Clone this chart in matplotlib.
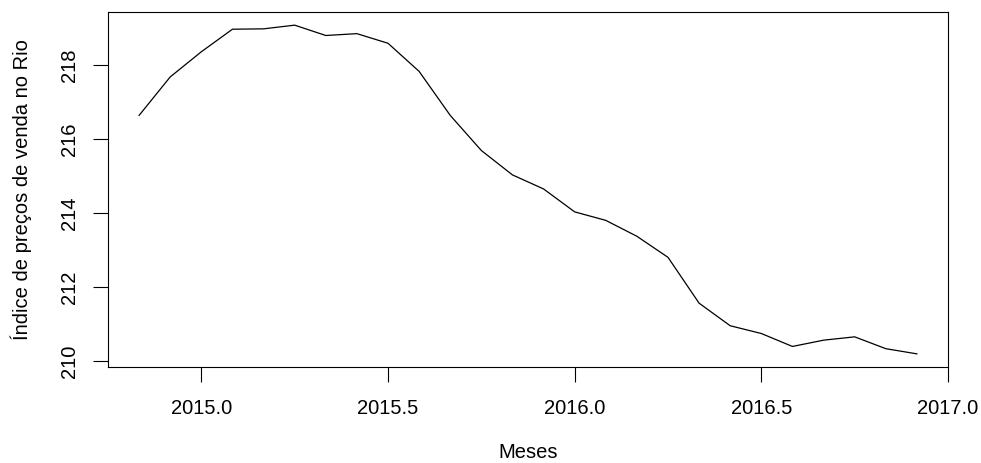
import numpy as np
import matplotlib
matplotlib.use("Agg")
import matplotlib.pyplot as plt

# monthly index, Nov 2014 .. Dec 2016
start = 2014 + 10 / 12
indice = [216.64, 217.68, 218.36, 218.97, 218.98, 219.08, 218.80, 218.85,
          218.59, 217.83, 216.64, 215.69, 215.03, 214.65, 214.03, 213.80,
          213.37, 212.80, 211.56, 210.95, 210.74, 210.39, 210.56, 210.65,
          210.33, 210.19]
meses = start + np.arange(len(indice)) / 12

xticks = [2015.0, 2015.5, 2016.0, 2016.5, 2017.0]
yticks = [210, 212, 214, 216, 218]

plt.rcParams["font.family"] = ["Liberation Sans", "DejaVu Sans"]

fig = plt.figure(figsize=(9.81, 4.63), dpi=100)
ax = fig.add_axes([108 / 981, 1 - 367 / 463, 840 / 981, 355 / 463])

ax.plot(meses, indice, color="black", linewidth=0.9)

span = meses[-1] - meses[0]
ax.set_xlim(meses[0] - 0.04 * span, meses[-1] + 0.04 * span)
yr = max(indice) - min(indice)
ax.set_ylim(min(indice) - 0.04 * yr, max(indice) + 0.04 * yr)

ax.set_xticks(xticks)
ax.set_xticklabels([f"{t:.1f}" for t in xticks], fontsize=14.5)
ax.set_yticks(yticks)
ax.set_yticklabels([str(t) for t in yticks], fontsize=14.5, rotation=90, va="center")
ax.tick_params(length=11, width=0.8, color="black")
ax.tick_params(axis="x", pad=12)
ax.tick_params(axis="y", pad=10)

for s in ax.spines.values():
    s.set_linewidth(0.8)

ax.set_xlabel("Meses", fontsize=14.5, labelpad=18)
ax.set_ylabel("Índice de preços de venda no Rio", fontsize=14.5, labelpad=20)

fig.savefig("out.png", dpi=100)
